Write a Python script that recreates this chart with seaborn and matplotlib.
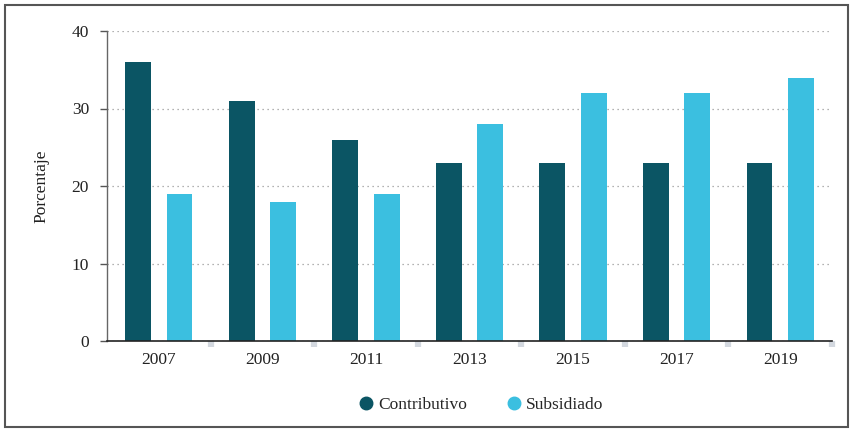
import matplotlib.pyplot as plt
import matplotlib.patches as mpatches
from matplotlib.lines import Line2D
import numpy as np
import pandas as pd
import seaborn as sns

# Data
years = ['2007', '2009', '2011', '2013', '2015', '2017', '2019']
contributivo = [36, 31, 26, 23, 23, 23, 23]
subsidiado = [19, 18, 19, 28, 32, 32, 34]
series = ['Contributivo', 'Subsidiado']
colors = ['#0b5564', '#3bbfe0']

df = pd.DataFrame({
    'year': years * 2,
    'value': contributivo + subsidiado,
    'serie': [series[0]] * len(years) + [series[1]] * len(years),
})

sns.set_style('white')
plt.rcParams['font.family'] = ['Liberation Serif', 'DejaVu Serif']

fig = plt.figure(figsize=(8.5, 4.29), dpi=100)
ax = fig.add_axes([107 / 850, 1 - 341 / 429, 725 / 850, 310 / 429])

sns.barplot(
    data=df, x='year', y='value', hue='serie',
    palette=colors, width=0.8, gap=0.375, saturation=1,
    linewidth=0, ax=ax, legend=False,
)

ax.set_xlim(-0.5, 6.5)
ax.set_ylim(0, 40)
ax.set_yticks([0, 10, 20, 30, 40])
ax.set_xlabel('')
ax.set_ylabel('Porcentaje', fontsize=12.5, color='#222222', labelpad=16)

# grid
ax.yaxis.grid(True, linestyle=(0, (1, 3)), color='#999999', linewidth=0.9)
ax.set_axisbelow(True)

# spines
for side in ['top', 'right']:
    ax.spines[side].set_visible(False)
ax.spines['left'].set_color('#666666')
ax.spines['left'].set_linewidth(1.0)
ax.spines['bottom'].set_color('#222222')
ax.spines['bottom'].set_linewidth(1.2)

ax.tick_params(axis='y', length=5, width=1, color='#555555', pad=8,
               labelsize=12.5, labelcolor='#222222', left=True)
ax.tick_params(axis='x', which='major', length=0, pad=8,
               labelsize=12.5, labelcolor='#222222')
ax.set_xticks(np.arange(0.5, 7), minor=True)
ax.tick_params(axis='x', which='minor', length=4.5, width=4.5,
               color='#d3d8df', bottom=True, direction='out')

# legend at bottom
handles = [Line2D([], [], marker='o', linestyle='', markersize=9,
                  markerfacecolor=c, markeredgecolor=c) for c in colors]
fig.legend(handles, series, loc='center', bbox_to_anchor=(480 / 850, 1 - 405 / 429),
           ncol=2, frameon=False, fontsize=12.5, handletextpad=0.2,
           columnspacing=2.2, handlelength=1.0)

# outer frame
frame = mpatches.Rectangle((4.5 / 850, 2.5 / 429), 843 / 850, 422 / 429,
                           transform=fig.transFigure, fill=False,
                           edgecolor='#555555', linewidth=1.5)
fig.patches.append(frame)

fig.savefig('out.png', dpi=100)
